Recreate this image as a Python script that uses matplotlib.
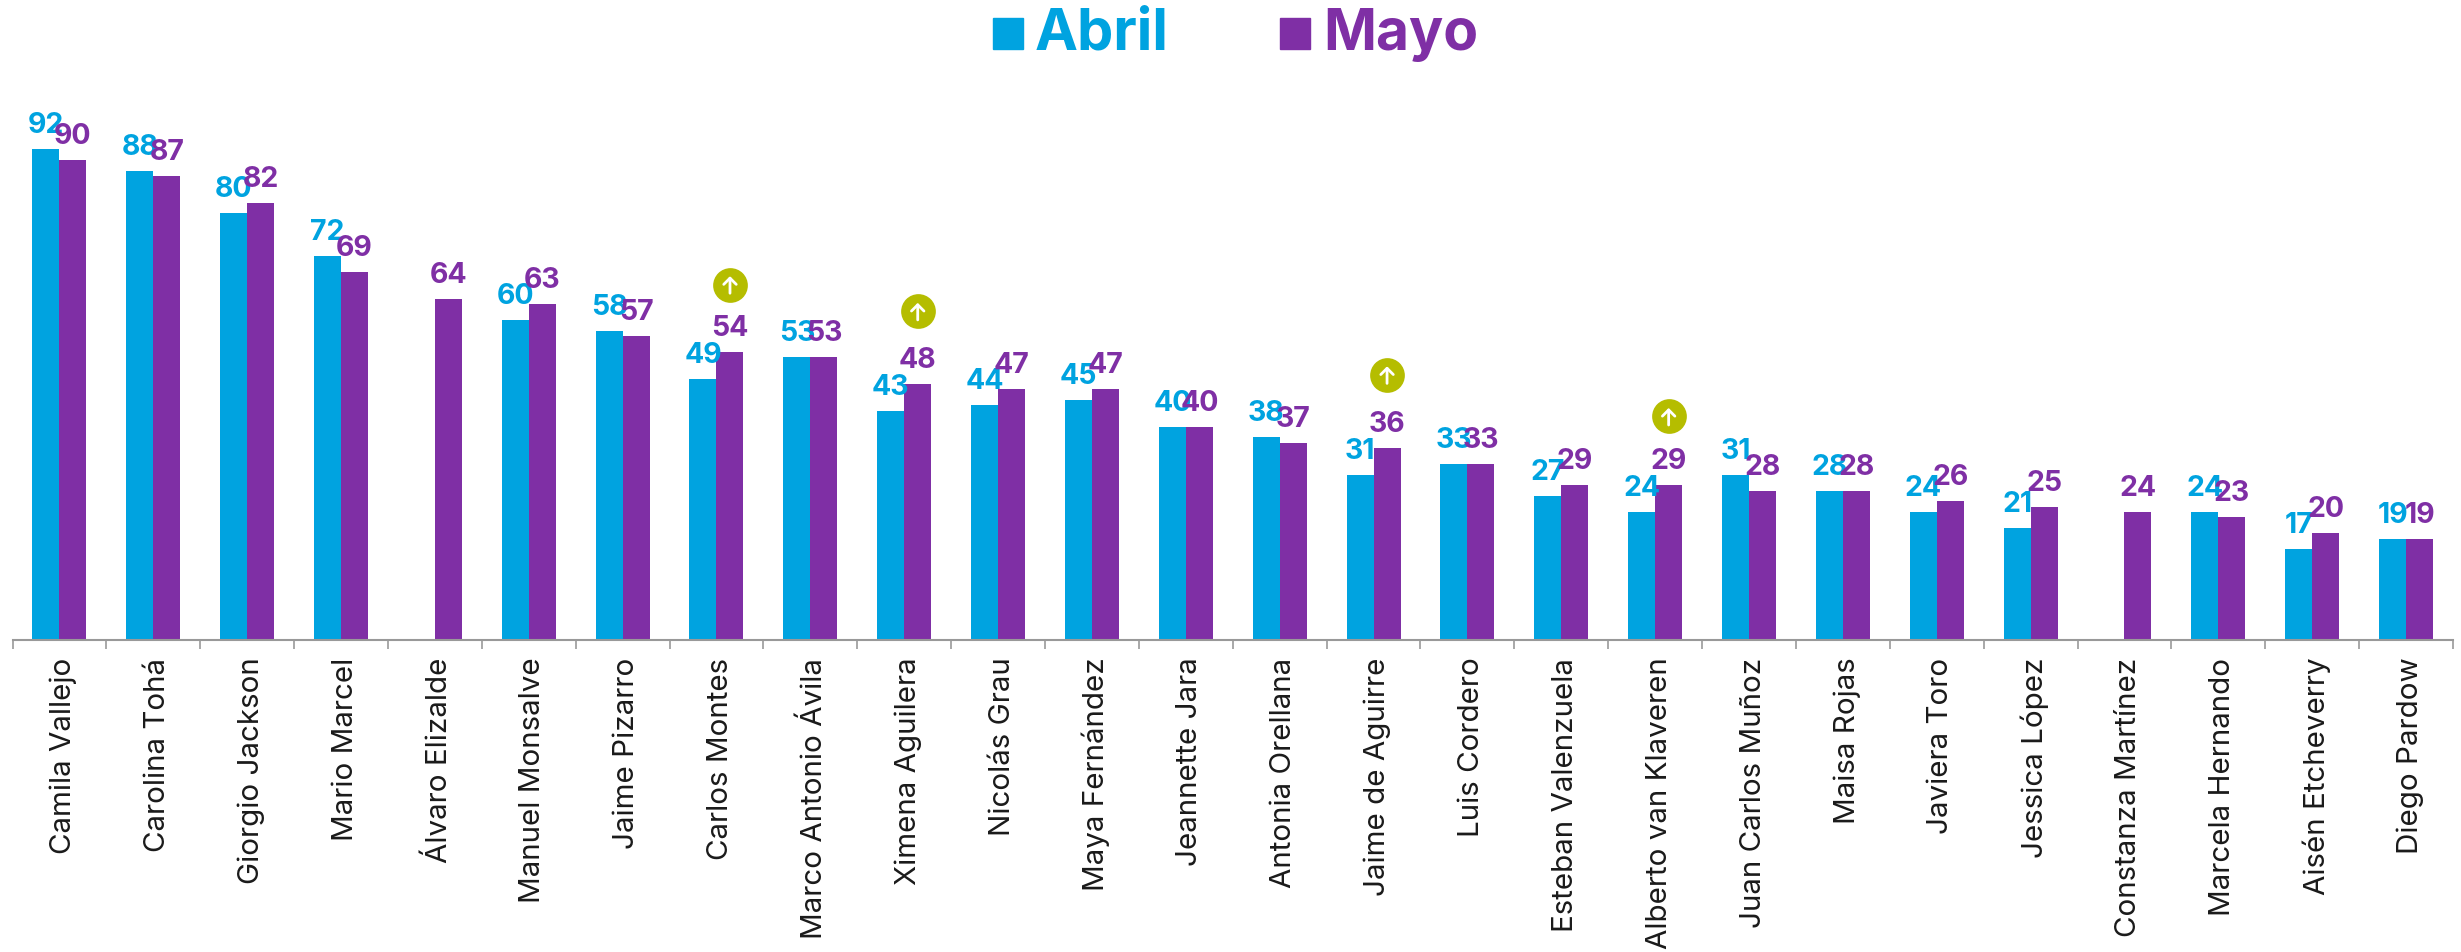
import matplotlib
matplotlib.use("Agg")
import matplotlib.pyplot as plt
import matplotlib.transforms as mtrans
import numpy as np
from matplotlib.patches import Rectangle

plt.rcParams["font.family"] = ["Inter", "DejaVu Sans"]

# data
nombres = ["Camila Vallejo", "Carolina Tohá", "Giorgio Jackson", "Mario Marcel", "Álvaro Elizalde",
           "Manuel Monsalve", "Jaime Pizarro", "Carlos Montes", "Marco Antonio Ávila", "Ximena Aguilera",
           "Nicolás Grau", "Maya Fernández", "Jeannette Jara", "Antonia Orellana", "Jaime de Aguirre",
           "Luis Cordero", "Esteban Valenzuela", "Alberto van Klaveren", "Juan Carlos Muñoz", "Maisa Rojas",
           "Javiera Toro", "Jessica López", "Constanza Martínez", "Marcela Hernando", "Aisén Etcheverry",
           "Diego Pardow"]
abril = [92, 88, 80, 72, None, 60, 58, 49, 53, 43, 44, 45, 40, 38, 31, 33, 27, 24, 31, 28, 24, 21, None, 24, 17, 19]
mayo = [90, 87, 82, 69, 64, 63, 57, 54, 53, 48, 47, 47, 40, 37, 36, 33, 29, 29, 28, 28, 26, 25, 24, 23, 20, 19]
suben = ["Carlos Montes", "Ximena Aguilera", "Jaime de Aguirre", "Alberto van Klaveren"]

AZUL = "#00A3E0"
MORADO = "#7F2FA5"
VERDE = "#B5BD00"

W, H = 2461, 953
fig = plt.figure(figsize=(W / 100, H / 100), dpi=100)
ax = fig.add_axes([12.5 / W, (H - 641) / H, (2453 - 12.5) / W, 641 / H])

x = np.arange(len(nombres))
ancho = 27 / 93.87
ax.set_xlim(-0.5, len(nombres) - 0.5)
ax.set_ylim(0, 641 / 5.335)

# bars and value labels
for i in x:
    if abril[i] is not None:
        ax.bar(i - ancho / 2, abril[i], ancho, color=AZUL)
        ax.annotate(str(abril[i]), (i - ancho / 2, abril[i]), xytext=(0, 12.2), textcoords="offset points",
                    ha="center", va="baseline", color=AZUL, fontsize=20.5, fontweight="bold")
    ax.bar(i + ancho / 2, mayo[i], ancho, color=MORADO)
    ax.annotate(str(mayo[i]), (i + ancho / 2, mayo[i]), xytext=(0, 12.2), textcoords="offset points",
                ha="center", va="baseline", color=MORADO, fontsize=20.5, fontweight="bold")

# green arrows over the ministers going up
alzas = [12.6, 13.6, 13.7, 12.9]
for nombre, alza in zip(suben, alzas):
    i = nombres.index(nombre)
    cx = i + ancho / 2
    cy = mayo[i] + alza
    ax.plot(cx, cy, "o", ms=25, color=VERDE, mew=0, clip_on=False)
    ax.annotate("", (cx, cy + 1.6), (cx, cy - 1.6),
                arrowprops=dict(arrowstyle="->,head_width=0.45,head_length=0.45", color="white", lw=2,
                                shrinkA=0, shrinkB=0))

# axis
for lado in ["top", "left", "right"]:
    ax.spines[lado].set_visible(False)
ax.spines["bottom"].set_color("#999999")
ax.spines["bottom"].set_linewidth(1.5)
ax.set_yticks([])
ax.set_xticks(np.arange(len(nombres) + 1) - 0.5)
ax.set_xticklabels([])
ax.tick_params(axis="x", which="major", length=6.5, width=1.2, color="#999999")
ax.set_xticks(x, nombres, minor=True)
ax.tick_params(axis="x", which="minor", length=0, pad=12, labelsize=21.3, labelrotation=90, labelcolor="#1a1a1a")
# the names sit a little to the right of the slot centre
corrimiento = mtrans.ScaledTranslation(3 / 72, 0, fig.dpi_scale_trans)
for t in ax.get_xticklabels(minor=True):
    t.set_transform(t.get_transform() + corrimiento)

# legend
fig.add_artist(Rectangle((993 / W, 1 - 49.6 / H), 30 / W, 31 / H, color=AZUL, transform=fig.transFigure))
fig.text(1035 / W, 1 - 50 / H, "Abril", color=AZUL, fontsize=41.5, fontweight="bold", va="baseline")
fig.add_artist(Rectangle((1280 / W, 1 - 49.6 / H), 30 / W, 31 / H, color=MORADO, transform=fig.transFigure))
fig.text(1323 / W, 1 - 50 / H, "Mayo", color=MORADO, fontsize=41, fontweight="bold", va="baseline")

fig.savefig("out.png", dpi=100)
